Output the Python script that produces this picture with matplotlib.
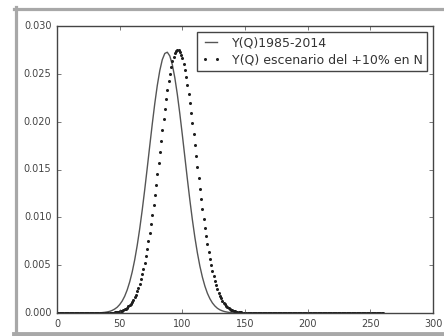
import numpy as np
import matplotlib
matplotlib.use("Agg")
import matplotlib.pyplot as plt
from matplotlib.lines import Line2D

plt.style.use("classic")
plt.rcParams["font.family"] = ["DejaVu Sans"]

# values, Y in units of 1e-3
solid_q = [0, 34, 36, 38, 40, 42, 44, 46, 48, 50, 52, 54, 56, 58, 60, 62, 64, 66, 68,
           70, 72, 74, 76, 78, 80, 82, 84, 86, 88, 90, 92, 94, 96, 98, 100, 102, 104,
           106, 108, 110, 112, 114, 116, 118, 120, 122, 124, 126, 128, 130, 132, 134,
           136, 138, 140, 142, 144, 146, 260]
solid_y = [0, 0.02, 0.04, 0.07, 0.11, 0.17, 0.27, 0.41, 0.60, 0.88, 1.25, 1.75, 2.41,
           3.25, 4.29, 5.56, 7.07, 8.81, 10.77, 12.90, 15.16, 17.47, 19.74, 21.88,
           23.77, 25.33, 26.48, 27.13, 27.26, 26.87, 25.96, 24.60, 22.86, 20.83, 18.62,
           16.32, 14.02, 11.81, 9.76, 7.91, 6.29, 4.90, 3.75, 2.81, 2.06, 1.49, 1.05,
           0.73, 0.49, 0.33, 0.22, 0.14, 0.09, 0.05, 0.03, 0.02, 0.01, 0, 0]

dot_q = np.arange(0, 261)
dot_y = [
    0, 0, 0, 0, 0, 0, 0, 0, 0, 0, 0, 0, 0, 0, 0, 0, 0, 0, 0, 0,
    0, 0, 0, 0, 0, 0, 0, 0, 0, 0, 0, 0, 0, 0, 0, 0, 0, 0, 0, 0,
    0.01, 0.02, 0.02, 0.03, 0.04, 0.05, 0.06, 0.08, 0.10, 0.13,
    0.16, 0.20, 0.25, 0.31, 0.38, 0.46, 0.56, 0.68, 0.82, 0.98,
    1.17, 1.39, 1.64, 1.93, 2.26, 2.63, 3.05, 3.52, 4.04, 4.62,
    5.25, 5.94, 6.69, 7.49, 8.36, 9.28, 10.25, 11.27, 12.33, 13.43,
    14.56, 15.69, 16.85, 18.00, 19.14, 20.26, 21.33, 22.35, 23.32, 24.21,
    25.01, 25.71, 26.31, 26.79, 27.15, 27.39, 27.49, 27.47, 27.31, 27.02,
    26.61, 26.08, 25.44, 24.70, 23.86, 22.94, 21.95, 20.91, 19.81, 18.69,
    17.55, 16.39, 15.24, 14.10, 12.99, 11.90, 10.86, 9.86, 8.91, 8.01,
    7.17, 6.38, 5.65, 4.99, 4.38, 3.83, 3.33, 2.88, 2.48, 2.12,
    1.81, 1.54, 1.30, 1.09, 0.92, 0.76, 0.63, 0.52, 0.43, 0.35,
    0.28, 0.23, 0.19, 0.15, 0.12, 0.09, 0.07, 0.06, 0.05, 0.04,
    0.03, 0.02, 0.02,
    0, 0, 0, 0, 0, 0, 0, 0, 0, 0, 0, 0, 0, 0, 0, 0, 0, 0, 0, 0,
    0, 0, 0, 0, 0, 0, 0, 0, 0, 0, 0, 0, 0, 0, 0, 0, 0, 0, 0, 0,
    0, 0, 0, 0, 0, 0, 0, 0, 0, 0, 0, 0, 0, 0, 0, 0, 0, 0, 0, 0,
    0, 0, 0, 0, 0, 0, 0, 0, 0, 0, 0, 0, 0, 0, 0, 0, 0, 0, 0, 0,
    0, 0, 0, 0, 0, 0, 0, 0, 0, 0, 0, 0, 0, 0, 0, 0, 0, 0, 0, 0,
    0, 0, 0, 0, 0, 0, 0, 0,
]

label_solid = "Y(Q)1985-2014"
label_dots = "Y(Q) escenario del +10% en N"
xticks = [0, 50, 100, 150, 200, 250, 300]
yticks = [0.000, 0.005, 0.010, 0.015, 0.020, 0.025, 0.030]

fig = plt.figure(figsize=(4.44, 3.36), dpi=100, facecolor="white")
ax = fig.add_axes([57 / 444, 1 - 313 / 336, 376 / 444, 287 / 336])

ax.plot(solid_q, np.array(solid_y) / 1000, color="#555555", lw=1.0, label=label_solid)
ax.plot(dot_q, np.array(dot_y) / 1000, ls="none", marker="o", ms=2.2, mew=0,
        color="#1e1e1e", label=label_dots)

ax.set_xlim(0, 300)
ax.set_ylim(0, 0.030)
ax.set_xticks(xticks)
ax.set_yticks(yticks)
ax.set_yticklabels([f"{v:.3f}" for v in yticks])
ax.tick_params(labelsize=7, colors="#444444", length=3, pad=4)
for s in ax.spines.values():
    s.set_color("#444444")
    s.set_linewidth(1.0)

leg = ax.legend(loc="upper right", fontsize=9, numpoints=2, handlelength=1.5,
                handletextpad=0.9, borderaxespad=0.5, borderpad=0.35,
                labelspacing=0.3, fancybox=False)
leg.get_frame().set_edgecolor("#444444")
leg.get_frame().set_linewidth(1.0)
for t in leg.get_texts():
    t.set_color("#333333")

# grey screenshot frame around the figure
frame_col = "#a8a8a8"
fig.add_artist(Line2D([15.5 / 444, 15.5 / 444], [0, 1 - 7 / 336], color=frame_col, lw=2.3,
                      transform=fig.transFigure))
fig.add_artist(Line2D([14 / 444, 1], [1 - 8.5 / 336, 1 - 8.5 / 336], color=frame_col, lw=2.3,
                      transform=fig.transFigure))
fig.add_artist(Line2D([14 / 444, 1], [2 / 336, 2 / 336], color=frame_col, lw=3.5,
                      transform=fig.transFigure))

fig.savefig("out.png", dpi=100, facecolor="white")
